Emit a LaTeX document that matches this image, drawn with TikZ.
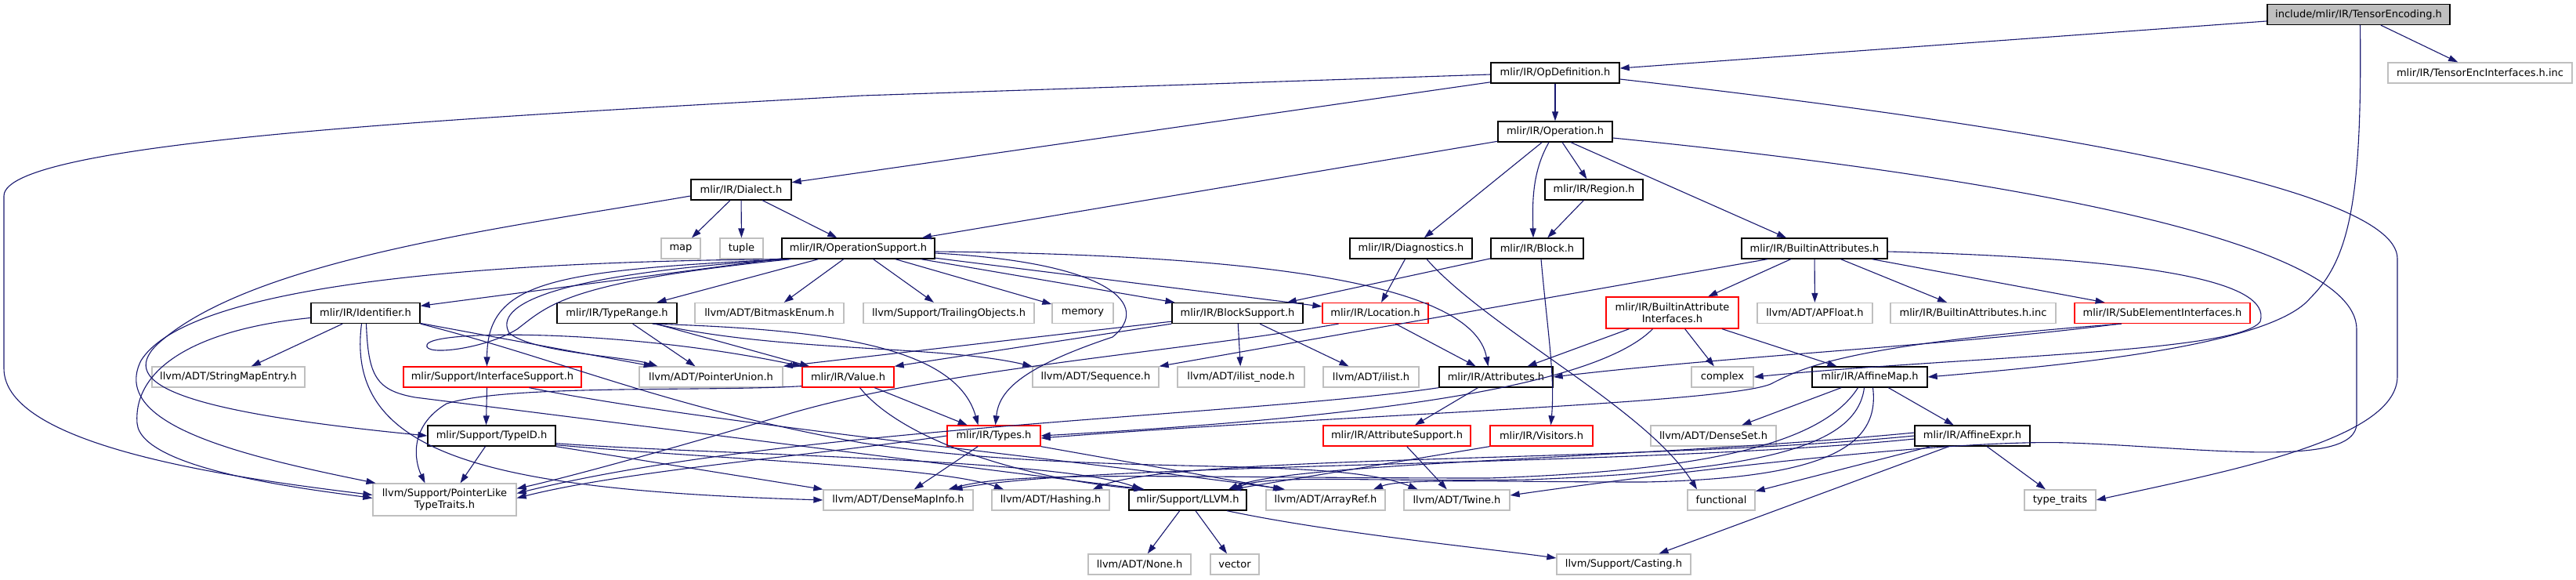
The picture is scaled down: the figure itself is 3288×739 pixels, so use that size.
\documentclass[tikz,border=0pt]{standalone}
\usepackage{fontspec}
\setmainfont{DejaVu Sans}
\usetikzlibrary{arrows.meta}
\definecolor{edgec}{HTML}{191970}
\definecolor{boxgray}{HTML}{BFBFBF}
\definecolor{boxred}{HTML}{FF0000}
\begin{document}
\begin{tikzpicture}[x=1pt,y=-1pt,
  nbase/.style={rectangle,fill=white,line width=1.3pt,minimum height=26pt,inner sep=0pt,align=center,font=\fontsize{13}{15.5}\selectfont},
  nblack/.style={nbase,draw=black},
  ngray/.style={nbase,draw=boxgray},
  nred/.style={nbase,draw=boxred},
  nroot/.style={nbase,draw=black,fill=boxgray},
  dep/.style={draw=edgec,line width=1.1pt,-{Triangle[length=12pt,width=8pt]}}]
\fill[white] (0,0) rectangle (3288,739);
\useasboundingbox (0,0) rectangle (3288,739);
% row 0-3
\node[nroot,minimum width=233pt] (TE) at (3010.5,18.5) {include/mlir/IR/TensorEncoding.h};
\node[nblack,minimum width=164pt] (OpDef) at (1985,93) {mlir/IR/OpDefinition.h};
\node[ngray,minimum width=235pt] (TEI) at (3165.5,93) {mlir/IR/TensorEncInterfaces.h.inc};
\node[nblack,minimum width=146pt] (Op) at (1985,168) {mlir/IR/Operation.h};
\node[nblack,minimum width=128pt] (Dialect) at (946,242) {mlir/IR/Dialect.h};
\node[nblack,minimum width=125pt] (Region) at (2034.5,242) {mlir/IR/Region.h};
% row 4
\node[ngray,minimum width=50pt] (map) at (869,317) {map};
\node[ngray,minimum width=55pt] (tuple) at (946.5,317) {tuple};
\node[nblack,minimum width=195pt] (OpSup) at (1095.5,317) {mlir/IR/OperationSupport.h};
\node[nblack,minimum width=156pt] (Diag) at (1801,317) {mlir/IR/Diagnostics.h};
\node[nblack,minimum width=118pt] (Block) at (1962,317) {mlir/IR/Block.h};
\node[nblack,minimum width=186pt] (BAttr) at (2316,317) {mlir/IR/BuiltinAttributes.h};
% row 5
\node[nblack,minimum width=139pt] (Ident) at (466.5,399.5) {mlir/IR/Identifier.h};
\node[nblack,minimum width=153pt] (TypeRange) at (787.5,399.5) {mlir/IR/TypeRange.h};
\node[ngray,minimum width=190pt] (Bitmask) at (982,399.5) {llvm/ADT/BitmaskEnum.h};
\node[ngray,minimum width=218pt] (Trailing) at (1211,399.5) {llvm/Support/TrailingObjects.h};
\node[ngray,minimum width=78pt] (memory) at (1382,399.5) {memory};
\node[nblack,minimum width=167pt] (BlockSup) at (1579.5,399.5) {mlir/IR/BlockSupport.h};
\node[nred,minimum width=135pt] (Loc) at (1755.5,399.5) {mlir/IR/Location.h};
\node[nred,minimum width=169pt,minimum height=40pt] (BAI) at (2134.5,399) {mlir/IR/BuiltinAttribute\\Interfaces.h};
\node[ngray,minimum width=147pt] (APFloat) at (2316.5,399.5) {llvm/ADT/APFloat.h};
\node[ngray,minimum width=211pt] (BAinc) at (2518.5,399.5) {mlir/IR/BuiltinAttributes.h.inc};
\node[nred,minimum width=224pt] (SubEl) at (2760,399.5) {mlir/IR/SubElementInterfaces.h};
% row 6
\node[ngray,minimum width=195pt] (SME) at (291.5,481) {llvm/ADT/StringMapEntry.h};
\node[nred,minimum width=227pt] (IfSup) at (628.5,481) {mlir/Support/InterfaceSupport.h};
\node[ngray,minimum width=183pt] (PU) at (907.5,481) {llvm/ADT/PointerUnion.h};
\node[nred,minimum width=117pt] (Value) at (1082.5,481) {mlir/IR/Value.h};
\node[ngray,minimum width=161pt] (Seq) at (1398.5,481) {llvm/ADT/Sequence.h};
\node[ngray,minimum width=162pt] (ilnode) at (1584,481) {llvm/ADT/ilist\_node.h};
\node[ngray,minimum width=122pt] (ilist) at (1750,481) {llvm/ADT/ilist.h};
\node[nblack,minimum width=145pt] (Attr) at (1909.5,481) {mlir/IR/Attributes.h};
\node[ngray,minimum width=79pt] (complex) at (2198.5,481) {complex};
\node[nblack,minimum width=147pt] (AMap) at (2386.5,481) {mlir/IR/AffineMap.h};
% row 7
\node[nblack,minimum width=163pt] (TypeID) at (627.5,556) {mlir/Support/TypeID.h};
\node[nred,minimum width=119pt] (Types) at (1268.5,556) {mlir/IR/Types.h};
\node[nred,minimum width=188pt] (AttrSup) at (1783,556) {mlir/IR/AttributeSupport.h};
\node[nred,minimum width=131pt] (Visitors) at (1967.5,556) {mlir/IR/Visitors.h};
\node[ngray,minimum width=160pt] (DenseSet) at (2187,556) {llvm/ADT/DenseSet.h};
\node[nblack,minimum width=147pt] (AExpr) at (2517.5,556) {mlir/IR/AffineExpr.h};
% row 8
\node[ngray,minimum width=183pt,minimum height=41pt] (PLT) at (567.5,637.5) {llvm/Support/PointerLike\\TypeTraits.h};
\node[ngray,minimum width=191pt] (DMI) at (1146.5,638) {llvm/ADT/DenseMapInfo.h};
\node[ngray,minimum width=150pt] (Hash) at (1341,638) {llvm/ADT/Hashing.h};
\node[nblack,minimum width=150pt] (LLVM) at (1516,638) {mlir/Support/LLVM.h};
\node[ngray,minimum width=152pt] (ARef) at (1692,638) {llvm/ADT/ArrayRef.h};
\node[ngray,minimum width=135pt] (Twine) at (1859.5,638) {llvm/ADT/Twine.h};
\node[ngray,minimum width=86pt] (functional) at (2197,638) {functional};
\node[ngray,minimum width=91pt] (tt) at (2629.5,638) {type\_traits};
% row 9
\node[ngray,minimum width=131pt] (None) at (1454.5,720) {llvm/ADT/None.h};
\node[ngray,minimum width=62pt] (vector) at (1576,720) {vector};
\node[ngray,minimum width=171pt] (Casting) at (2072.5,720) {llvm/Support/Casting.h};

% ---- edges ----
\draw[dep] (TE) -- (OpDef);
\draw[dep] (TE) -- (TEI);
\draw[dep] ([xshift=2pt]TE.south) .. controls (3015,250) and (3000,330) .. (2949,380) .. controls (2900,440) and (2650,465) .. (AMap.east);
\draw[dep] (OpDef) -- (Op);
\draw[dep] (OpDef) -- (Dialect);
\draw[dep] ([yshift=-2pt]OpDef.west) -- (1100,122) .. controls (600,150) and (5,180) .. (5,250) -- (5,470) .. controls (5,570) and (300,610) .. ([yshift=6pt]PLT.west);
\draw[dep] ([yshift=-8pt]OpDef.east) .. controls (2500,150) and (3060,230) .. (3060,330) -- (3060,480) .. controls (3060,560) and (2850,600) .. (tt.east);
% Operation
\draw[dep] (Op) -- (OpSup);
\draw[dep] (Op) -- (Diag);
\draw[dep] ([xshift=-8pt]Op.south) .. controls (1955,220) and (1956,260) .. ([xshift=-5pt]Block.north);
\draw[dep] (Op) -- (Region);
\draw[dep] ([xshift=20pt]Op.south) -- ([xshift=-36pt]BAttr.north);
\draw[dep] ([yshift=-8pt]Op.east) .. controls (2500,220) and (3008,300) .. (3008,420) -- (3008,540) .. controls (3008,600) and (2800,570) .. (2640,565) .. controls (2500,560) and (2150,600) .. ([yshift=6pt]Twine.east);
\draw[dep] (Region) -- (Block);
% Dialect
\draw[dep] (Dialect) -- (map);
\draw[dep] (Dialect) -- (tuple);
\draw[dep] (Dialect) -- (OpSup);
\draw[dep] ([yshift=-8pt]Dialect.west) .. controls (650,290) and (320,330) .. (200,440) .. controls (150,490) and (230,525) .. (TypeID.west);
% OperationSupport
\draw[dep] (OpSup) -- (Ident);
\draw[dep] (OpSup) -- (TypeRange);
\draw[dep] (OpSup) -- (Bitmask);
\draw[dep] (OpSup) -- (Trailing);
\draw[dep] (OpSup) -- (memory);
\draw[dep] (OpSup) -- (BlockSup);
\draw[dep] (OpSup) -- (Loc);
\draw[dep] ([yshift=-4pt]OpSup.east) .. controls (1600,325) and (1880,360) .. ([xshift=-10pt]Attr.north);
\draw[dep] ([yshift=-6pt]OpSup.east) .. controls (1420,335) and (1470,390) .. (1420,430) .. controls (1300,470) and (1275,500) .. ([xshift=2pt]Types.north);
\draw[dep] ([xshift=-90pt]OpSup.south) .. controls (700,345) and (622,360) .. ([xshift=-7pt]IfSup.north);
\draw[dep] ([xshift=-88pt]OpSup.south) .. controls (700,350) and (630,390) .. (650,425) .. controls (680,450) and (800,455) .. ([xshift=-68pt]PU.north);
\draw[dep] ([xshift=-86pt]OpSup.south) .. controls (720,360) and (700,390) .. (660,420) .. controls (620,445) and (540,455) .. (545,440) .. controls (550,420) and (800,420) .. (Value.north west);
\draw[dep] (OpSup.south west) .. controls (500,335) and (230,380) .. (180,460) .. controls (140,540) and (300,580) .. ([xshift=-88pt]PLT.north);
% Identifier
\draw[dep] (Ident) -- (SME);
\draw[dep] (Ident) -- (PU);
\draw[dep] ([yshift=-6pt]Ident.west) .. controls (250,420) and (170,470) .. (175,540) .. controls (180,600) and (400,625) .. ([yshift=2pt]PLT.west);
\draw[dep] ([xshift=-5pt]Ident.south) .. controls (440,580) and (620,625) .. (DMI.west);
\draw[dep] ([xshift=1pt]Ident.south) .. controls (470,480) and (480,498) .. (530,507) -- ([xshift=-55pt]LLVM.north);
\draw[dep] (Ident.south east) .. controls (720,460) and (850,520) .. (1100,565) .. controls (1400,610) and (1700,580) .. ([xshift=-50pt]Twine.north);
% InterfaceSupport
\draw[dep] ([xshift=-7pt]IfSup.south) -- ([xshift=-7pt]TypeID.north);
\draw[dep] ([xshift=47pt]IfSup.south) .. controls (900,540) and (1400,590) .. ([xshift=-52pt]ARef.north);
% TypeRange
\draw[dep] (TypeRange) -- (PU);
\draw[dep] (TypeRange) -- (Value);
\draw[dep] ([xshift=48pt]TypeRange.south) .. controls (1000,450) and (1200,440) .. (Seq.north west);
\draw[dep] ([xshift=45pt]TypeRange.south) .. controls (1050,420) and (1220,440) .. ([xshift=-20pt]Types.north);
% BlockSupport
\draw[dep] (BlockSup.south west) -- (Value.north east);
\draw[dep] ([yshift=3pt]BlockSup.south west) -- (PU.north east);
\draw[dep] (BlockSup) -- (ilnode);
\draw[dep] (BlockSup) -- (ilist);
% Location
\draw[dep] (Loc) -- (Attr);
\draw[dep] ([xshift=-47pt]Loc.south) .. controls (1500,450) and (1200,470) .. (1000,530) .. controls (850,575) and (720,610) .. ([yshift=14pt]PLT.east);
% Attributes
\draw[dep] (Attr) -- (AttrSup);
\draw[dep] (Attr.south west) .. controls (1600,530) and (1000,545) .. ([yshift=8pt]PLT.east);
% Types
\draw[dep] (Types) -- (DMI);
\draw[dep] (Types.west) .. controls (1050,580) and (800,600) .. ([yshift=2pt]PLT.east);
\draw[dep] (Types.south east) -- ([xshift=-55pt]ARef.north);
% Value
\draw[dep] (Value) -- (Types);
\draw[dep] ([xshift=15pt]Value.south) .. controls (1150,560) and (1300,610) .. ([xshift=-57pt]LLVM.north);
\draw[dep] ([yshift=2pt]Value.south west) .. controls (900,500) and (650,490) .. (570,515) .. controls (520,545) and (530,590) .. ([xshift=-25pt]PLT.north);
% TypeID
\draw[dep] ([xshift=-8pt]TypeID.south) -- ([xshift=20pt]PLT.north);
\draw[dep] (TypeID.south east) -- (DMI.north west);
\draw[dep] ([yshift=2pt]TypeID.south east) .. controls (900,585) and (1200,595) .. ([xshift=-60pt]Hash.north);
\draw[dep] ([yshift=4pt]TypeID.south east) .. controls (900,580) and (1350,585) .. ([xshift=-59pt]LLVM.north);
% Block, Diagnostics, AttributeSupport, Visitors
\draw[dep] (Block) -- (BlockSup);
\draw[dep] ([xshift=5pt]Block.south) .. controls (1975,420) and (1985,480) .. ([xshift=12pt]Visitors.north);
\draw[dep] (Diag) -- (Loc);
\draw[dep] ([xshift=20pt]Diag.south) .. controls (1900,420) and (2100,520) .. ([xshift=-31pt]functional.north);
\draw[dep] (AttrSup) -- (Twine);
\draw[dep] (Visitors.south west) -- ([xshift=56pt]LLVM.north);
% BuiltinAttributes
\draw[dep] ([xshift=-60pt]BAttr.south) -- (Seq.north east);
\draw[dep] (BAttr) -- (BAI);
\draw[dep] (BAttr) -- (APFloat);
\draw[dep] (BAttr) -- (BAinc);
\draw[dep] (BAttr) -- (SubEl);
\draw[dep] ([yshift=-4pt]BAttr.east) .. controls (2750,330) and (2900,360) .. (2885,410) .. controls (2860,450) and (2500,455) .. (complex.east);
% BuiltinAttributeInterfaces
\draw[dep] ([xshift=-55pt]BAI.south) -- ([xshift=40pt]Attr.north);
\draw[dep] ([xshift=-25pt]BAI.south) .. controls (2030,500) and (1700,535) .. (Types.east);
\draw[dep] (BAI) -- (complex);
\draw[dep] (BAI) -- (AMap);
% SubElementInterfaces
\draw[dep] ([xshift=-55pt]SubEl.south) .. controls (2500,440) and (2200,455) .. (Attr.east);
\draw[dep] ([xshift=-52pt]SubEl.south) .. controls (2350,440) and (2300,470) .. (2260,490) .. controls (2200,515) and (1700,530) .. ([yshift=-3pt]Types.east);
% AffineMap
\draw[dep] (AMap) -- (DenseSet);
\draw[dep] (AMap) -- (AExpr);
\draw[dep] ([xshift=-15pt]AMap.south) .. controls (2330,560) and (2200,600) .. (1900,610) .. controls (1500,610) and (1300,600) .. ([xshift=64pt]DMI.north);
\draw[dep] ([xshift=-7pt]AMap.south) .. controls (2370,570) and (2250,600) .. (1950,612) .. controls (1750,615) and (1620,605) .. ([xshift=58pt]LLVM.north);
\draw[dep] ([xshift=4pt]AMap.south) .. controls (2400,570) and (2330,610) .. (2100,615) .. controls (1900,615) and (1790,610) .. ([xshift=61pt]ARef.north);
% AffineExpr
\draw[dep] (AExpr) -- (tt);
\draw[dep] (AExpr) -- (functional);
\draw[dep] ([xshift=-30pt]AExpr.south) -- ([xshift=45pt]Casting.north);
\draw[dep] (AExpr.west) .. controls (2100,590) and (1500,580) .. ([xshift=54pt]Hash.north);
\draw[dep] ([yshift=4pt]AExpr.west) .. controls (2100,585) and (1650,590) .. ([xshift=52pt]LLVM.north);
\draw[dep] ([yshift=-4pt]AExpr.west) .. controls (2100,595) and (1400,590) .. ([xshift=70pt]DMI.north);
% LLVM
\draw[dep] (LLVM) -- (None);
\draw[dep] (LLVM) -- (vector);
\draw[dep] ([xshift=50pt]LLVM.south) .. controls (1700,680) and (1900,700) .. ([yshift=8pt]Casting.west);
\end{tikzpicture}
\end{document}
